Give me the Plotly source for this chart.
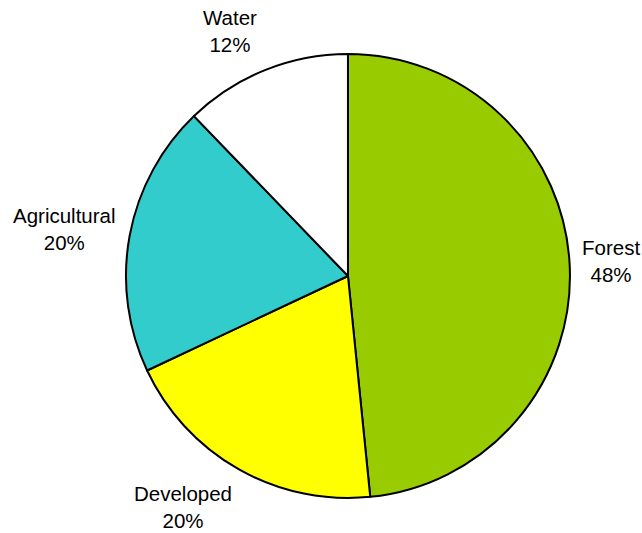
import plotly.graph_objects as go

categories = ["Forest", "Developed", "Agricultural", "Water"]
values = [48.4, 19.6, 19.8, 12.2]
colors = ["#99CC00", "#FFFF00", "#33CCCC", "#FFFFFF"]

# label anchor positions (paper coords), layout only
label_pos = [(0.952, 0.510), (0.285, 0.049), (0.101, 0.570), (0.358, 0.942)]

total = sum(values)
fig = go.Figure(go.Pie(
    labels=categories,
    values=values,
    sort=False,
    direction="clockwise",
    rotation=0,
    marker=dict(colors=colors, line=dict(color="black", width=2)),
    textinfo="none",
    hoverinfo="label+percent",
    showlegend=False,
    domain=dict(x=[0.196, 0.888], y=[0.0657, 0.8987]),
))

for cat, v, (px, py) in zip(categories, values, label_pos):
    fig.add_annotation(
        x=px, y=py, xref="paper", yref="paper",
        text=f"{cat}<br>{round(100 * v / total)}%",
        showarrow=False, align="center",
        xanchor="center", yanchor="middle",
        font=dict(family="Liberation Sans, Arial, sans-serif", size=20.5, color="black"),
    )

fig.update_layout(
    width=642, height=533,
    margin=dict(l=0, r=0, t=0, b=0),
    paper_bgcolor="white", plot_bgcolor="white",
)

fig.write_html("out.html", config={"displayModeBar": False},
               post_script="document.body.style.margin='0';")
